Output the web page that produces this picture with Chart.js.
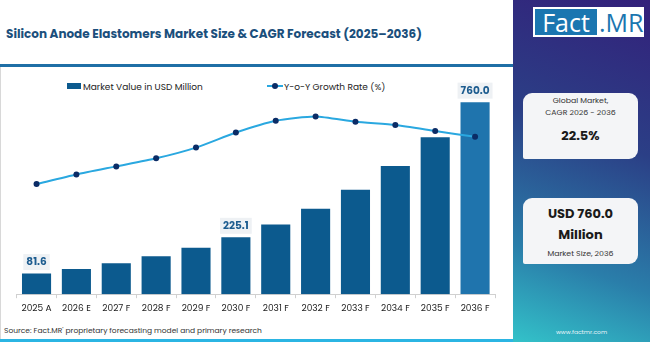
<!DOCTYPE html>
<html>
<head>
<meta charset="utf-8">
<script src="https://cdn.jsdelivr.net/npm/chart.js@4.4.1/dist/chart.umd.min.js"></script>
<style>
  html, body { margin: 0; padding: 0; }
  body { width: 650px; height: 342px; position: relative; overflow: hidden; background: #fff; font-family: "Poppins", "Inter", "Open Sans", sans-serif; }
  #title { position: absolute; left: 6px; top: 25px; font-size: 12px; font-weight: 700; color: #1b4f7c; white-space: nowrap; }
  #rule { position: absolute; left: 0; top: 64px; width: 513px; height: 3px; background: #1f6fa6; }
  #edge { position: absolute; left: 0; top: 67px; width: 1px; height: 272px; background: #d8d8d8; }
  #chartBox { position: absolute; left: 0; top: 70px; width: 513px; height: 253px; }
  #source { position: absolute; left: 4px; top: 325px; font-size: 7.5px; color: #333; white-space: nowrap; }
  #bottomBar { position: absolute; left: 0; top: 339px; width: 513px; height: 3px; background: #2bb5e3; }
  .leg { position: absolute; top: 81px; font-size: 9px; color: #222; white-space: nowrap; line-height: 12px; }
  #legBar { left: 67px; }
  #legBar span { display: inline-block; width: 14px; height: 6px; background: #0c5a8e; margin-right: 2px; vertical-align: 1px; }
  #legLine { left: 267px; }
  #legLine i { display: inline-block; position: relative; width: 16px; height: 2px; background: #2aa8e0; vertical-align: 3px; margin-right: 1px; }
  #legLine i::after { content: ""; position: absolute; left: 5px; top: -2px; width: 6px; height: 6px; border-radius: 50%; background: #0b2c66; }
  #panel { position: absolute; left: 513px; top: 0; width: 137px; height: 342px; background: linear-gradient(200deg, #33207a 0%, #2b3f86 40%, #2a7eaa 75%, #33c2c9 100%); }
  #logo { position: absolute; left: 20px; top: 7px; width: 111px; height: 30px; background: #fff; }
  #logo .fact { position: absolute; left: 2px; top: 2px; width: 62px; height: 26px; background: #1b76b0; color: #fff; font: 400 25px/26px "Open Sans", sans-serif; text-align: center; }
  #logo .mr { position: absolute; left: 66px; top: 2px; color: #1b76b0; font: 400 25px/26px "Open Sans", sans-serif; }
  .card { position: absolute; left: 10px; width: 115px; background: #f4f5f7; border-radius: 9px 9px 9px 2px; text-align: center; color: #333; }
  #card1 { top: 93px; height: 66px; }
  #card2 { top: 198px; height: 66px; }
  .small { font-size: 7.8px; line-height: 12.3px; }
  .big { font-size: 13px; font-weight: 700; color: #1a1a1a; }
  #site { position: absolute; left: 0; width: 137px; top: 328px; text-align: center; font-size: 6px; color: #e8f4f8; }
</style>
</head>
<body>
<div id="title">Silicon Anode Elastomers Market Size &amp; CAGR Forecast (2025–2036)</div>
<div id="rule"></div>
<div id="edge"></div>
<div class="leg" id="legBar"><span></span>Market Value in USD Million</div>
<div class="leg" id="legLine"><i></i>Y-o-Y Growth Rate (%)</div>
<div id="chartBox"><canvas id="chart"></canvas></div>
<div id="source">Source: Fact.MR' proprietary forecasting model and primary research</div>
<div id="bottomBar"></div>
<div id="panel">
  <div id="logo"><div class="fact">Fact</div><div class="mr">.MR</div></div>
  <div class="card" id="card1">
    <div class="small" style="padding-top:1.5px">Global Market,<br>CAGR 2026 - 2036</div>
    <div class="big" style="margin-top:8px;line-height:18px">22.5%</div>
  </div>
  <div class="card" id="card2">
    <div class="big" style="padding-top:5px;line-height:21px">USD 760.0<br>Million</div>
    <div class="small" style="margin-top:3px">Market Size, 2036</div>
  </div>
  <div id="site">www.factmr.com</div>
</div>
<script>
const years = ["2025 A", "2026 E", "2027 F", "2028 F", "2029 F", "2030 F", "2031 F", "2032 F", "2033 F", "2034 F", "2035 F", "2036 F"];
const marketValue = [81.6, 100.0, 122.5, 150.0, 183.8, 225.1, 275.8, 337.8, 413.8, 506.9, 621.0, 760.0];
const growthRate = [20.5, 22.3, 23.8, 25.3, 27.3, 30.1, 32.3, 33.1, 32.1, 31.5, 30.4, 29.3];
const labelledBars = [0, 5, 11];

const barColors = years.map((y, i) => (i === years.length - 1 ? "#1f74ad" : "#0c5a8e"));

// value boxes above a few bars
const valueLabels = {
  id: "valueLabels",
  afterDatasetsDraw(chart) {
    const ctx = chart.ctx;
    const meta = chart.getDatasetMeta(1);
    ctx.save();
    ctx.font = "700 10.5px Poppins, Inter, sans-serif";
    ctx.textAlign = "center";
    ctx.textBaseline = "middle";
    labelledBars.forEach((i) => {
      const bar = meta.data[i];
      const text = marketValue[i].toFixed(1);
      const w = ctx.measureText(text).width + 6;
      const h = 16;
      const cy = bar.y - 11.5;
      ctx.fillStyle = "#eef1f4";
      ctx.fillRect(bar.x - w / 2, cy - h / 2, w, h);
      ctx.fillStyle = "#1d5c8f";
      ctx.fillText(text, bar.x, cy + 0.5);
    });
    ctx.restore();
  },
};

new Chart(document.getElementById("chart"), {
  type: "bar",
  data: {
    labels: years,
    datasets: [
      {
        type: "line",
        label: "Y-o-Y Growth Rate (%)",
        data: growthRate,
        yAxisID: "y1",
        borderColor: "#2aa8e0",
        borderWidth: 2,
        tension: 0.2,
        pointRadius: 3,
        pointBackgroundColor: "#0b2c66",
        pointBorderWidth: 0,
        order: 0,
      },
      {
        label: "Market Value in USD Million",
        data: marketValue,
        yAxisID: "y",
        backgroundColor: barColors,
        categoryPercentage: 0.73,
        barPercentage: 1,
        order: 1,
      },
    ],
  },
  options: {
    responsive: true,
    maintainAspectRatio: false,
    animation: false,
    layout: { padding: { left: 16.6, right: 18, top: 9.4, bottom: 4 } },
    plugins: { legend: { display: false }, tooltip: { enabled: false } },
    scales: {
      x: {
        grid: { display: true, drawOnChartArea: false, drawTicks: true, tickLength: 4, color: "#d0d0d0", offset: true },
        border: { color: "#d0d0d0" },
        ticks: { color: "#222", font: { size: 9, family: "Poppins, Inter, sans-serif" }, padding: 5, maxRotation: 0, autoSkip: false },
      },
      y: { display: false, min: 0, max: 850 },
      y1: { display: false, min: 0, max: 40 },
    },
  },
  plugins: [valueLabels],
});
</script>
</body>
</html>
